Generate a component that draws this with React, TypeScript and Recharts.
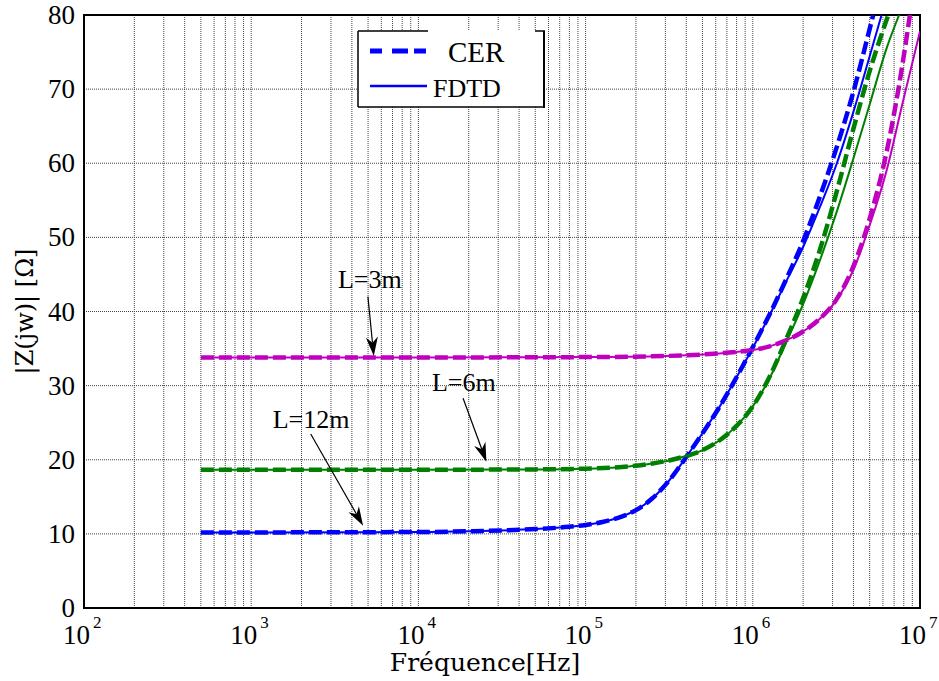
import React from "react";
import {
  LineChart,
  Line,
  XAxis,
  YAxis,
  CartesianGrid,
  ReferenceLine,
  ReferenceDot,
  ReferenceArea,
  Label,
} from "recharts";

// ---------- data ----------
const xTicks = [
  100, 200, 300, 400, 500, 600, 700, 800, 900,
  1000, 2000, 3000, 4000, 5000, 6000, 7000, 8000, 9000,
  1e4, 2e4, 3e4, 4e4, 5e4, 6e4, 7e4, 8e4, 9e4,
  1e5, 2e5, 3e5, 4e5, 5e5, 6e5, 7e5, 8e5, 9e5,
  1e6, 2e6, 3e6, 4e6, 5e6, 6e6, 7e6, 8e6, 9e6, 1e7,
];
const yTicks = [0, 10, 20, 30, 40, 50, 60, 70, 80];

// L=12m (blue)
const blueCER = [
  { f: 500, z: 10.2 }, { f: 1e3, z: 10.2 }, { f: 1e4, z: 10.25 }, { f: 2e4, z: 10.35 },
  { f: 5e4, z: 10.65 }, { f: 7.94e4, z: 10.95 }, { f: 1e5, z: 11.2 }, { f: 1.26e5, z: 11.6 },
  { f: 1.58e5, z: 12.2 }, { f: 2e5, z: 13.2 }, { f: 2.51e5, z: 14.8 }, { f: 3.16e5, z: 17.2 },
  { f: 3.98e5, z: 20.3 },
  { f: 5.01e5, z: 23.6 }, { f: 6.31e5, z: 27.1 }, { f: 7.94e5, z: 31.0 }, { f: 1e6, z: 35.2 },
  { f: 1.26e6, z: 39.6 }, { f: 1.58e6, z: 44.3 }, { f: 2e6, z: 49.5 }, { f: 2.51e6, z: 55.4 },
  { f: 3.16e6, z: 62.0 }, { f: 3.98e6, z: 69.5 }, { f: 5.01e6, z: 78.2 }, { f: 5.25e6, z: 80 },
];
const blueFDTD = [
  { f: 500, z: 10.2 }, { f: 1e3, z: 10.2 }, { f: 1e4, z: 10.25 }, { f: 2e4, z: 10.35 },
  { f: 5e4, z: 10.65 }, { f: 7.94e4, z: 10.95 }, { f: 1e5, z: 11.2 }, { f: 1.26e5, z: 11.6 },
  { f: 1.58e5, z: 12.2 }, { f: 2e5, z: 13.2 }, { f: 2.51e5, z: 14.8 }, { f: 3.16e5, z: 17.2 },
  { f: 3.98e5, z: 20.3 },
  { f: 5.01e5, z: 23.6 }, { f: 6.31e5, z: 27.1 }, { f: 7.94e5, z: 31.0 }, { f: 1e6, z: 35.1 },
  { f: 1.26e6, z: 39.5 }, { f: 1.58e6, z: 44.0 }, { f: 2e6, z: 48.7 }, { f: 2.51e6, z: 54.0 },
  { f: 3.16e6, z: 59.8 }, { f: 3.98e6, z: 66.8 }, { f: 5.01e6, z: 74.5 }, { f: 5.89e6, z: 80 },
];
// L=6m (green)
const greenCER = [
  { f: 500, z: 18.65 }, { f: 1e3, z: 18.65 }, { f: 1e4, z: 18.65 }, { f: 5e4, z: 18.7 },
  { f: 1e5, z: 18.8 }, { f: 1.58e5, z: 19.0 }, { f: 2e5, z: 19.2 }, { f: 2.51e5, z: 19.5 },
  { f: 3.16e5, z: 19.9 }, { f: 3.98e5, z: 20.5 }, { f: 5.01e5, z: 21.3 }, { f: 6.31e5, z: 22.6 },
  { f: 7.94e5, z: 24.5 }, { f: 1e6, z: 27.2 }, { f: 1.26e6, z: 31.2 }, { f: 1.58e6, z: 36.2 },
  { f: 2e6, z: 41.8 }, { f: 2.51e6, z: 48.2 }, { f: 3.16e6, z: 56.0 }, { f: 3.98e6, z: 64.5 },
  { f: 5.01e6, z: 72.5 }, { f: 6.46e6, z: 80 },
];
const greenFDTD = [
  { f: 500, z: 18.65 }, { f: 1e3, z: 18.65 }, { f: 1e4, z: 18.65 }, { f: 5e4, z: 18.7 },
  { f: 1e5, z: 18.8 }, { f: 1.58e5, z: 19.0 }, { f: 2e5, z: 19.2 }, { f: 2.51e5, z: 19.5 },
  { f: 3.16e5, z: 19.9 }, { f: 3.98e5, z: 20.5 }, { f: 5.01e5, z: 21.3 }, { f: 6.31e5, z: 22.6 },
  { f: 7.94e5, z: 24.5 }, { f: 1e6, z: 27.2 }, { f: 1.26e6, z: 31.0 }, { f: 1.58e6, z: 35.8 },
  { f: 2e6, z: 41.0 }, { f: 2.51e6, z: 46.8 }, { f: 3.16e6, z: 53.3 }, { f: 3.98e6, z: 60.5 },
  { f: 5.01e6, z: 68.0 }, { f: 6.31e6, z: 75.5 }, { f: 7.5e6, z: 80 },
];
// L=3m (magenta)
const magentaCER = [
  { f: 500, z: 33.8 }, { f: 1e3, z: 33.8 }, { f: 1e4, z: 33.8 }, { f: 1e5, z: 33.85 },
  { f: 3e5, z: 34.0 }, { f: 5e5, z: 34.2 }, { f: 6.31e5, z: 34.35 }, { f: 7.94e5, z: 34.55 },
  { f: 1e6, z: 34.8 }, { f: 1.26e6, z: 35.3 }, { f: 1.58e6, z: 36.1 }, { f: 2e6, z: 37.3 },
  { f: 2.51e6, z: 39.0 }, { f: 3.16e6, z: 41.6 }, { f: 3.98e6, z: 46.0 }, { f: 5.01e6, z: 52.6 },
  { f: 6.31e6, z: 61.5 }, { f: 7.94e6, z: 74.0 }, { f: 8.7e6, z: 80 },
];
const magentaFDTD = [
  { f: 500, z: 33.8 }, { f: 1e3, z: 33.8 }, { f: 1e4, z: 33.8 }, { f: 1e5, z: 33.85 },
  { f: 3e5, z: 34.0 }, { f: 5e5, z: 34.2 }, { f: 6.31e5, z: 34.35 }, { f: 7.94e5, z: 34.55 },
  { f: 1e6, z: 34.8 }, { f: 1.26e6, z: 35.3 }, { f: 1.58e6, z: 36.1 }, { f: 2e6, z: 37.3 },
  { f: 2.51e6, z: 39.0 }, { f: 3.16e6, z: 41.5 }, { f: 3.98e6, z: 45.5 }, { f: 5.01e6, z: 51.7 },
  { f: 6.31e6, z: 59.0 }, { f: 7.94e6, z: 68.5 }, { f: 1e7, z: 77.8 },
];

// annotations: text anchor and arrow (from -> to) in data coordinates
const annotations = [
  { text: "L=3m", tf: 5.12e3, tz: 44.25, f1: 4.99e3, z1: 42.0, f2: 5.41e3, z2: 34.0 },
  { text: "L=6m", tf: 1.87e4, tz: 30.35, f1: 1.85e4, z1: 28.3, f2: 2.55e4, z2: 19.74 },
  { text: "L=12m", tf: 2.28e3, tz: 25.4, f1: 2.27e3, z1: 23.47, f2: 4.67e3, z2: 11.1 },
];

const BLUE = "#0000ff";
const GREEN = "#008000";
const MAGENTA = "#bf00bf";
const SERIF = '"Liberation Serif", "Times New Roman", serif';
const SERIF2 = '"DejaVu Serif", "Liberation Serif", serif';

const XTick = (props: any) => {
  const { x, y, payload } = props;
  const lg = Math.log10(payload.value);
  const e = Math.round(lg);
  if (Math.abs(lg - e) > 1e-6) return <g />;
  return (
    <text x={x - 21} y={y + 36} fontFamily={SERIF} fontSize={27} fill="#000">
      <tspan>10</tspan>
      <tspan dx={3} dy={-16} fontSize={17}>{e}</tspan>
    </text>
  );
};

const YTick = (props: any) => {
  const { x, y, payload } = props;
  return (
    <text x={x} y={y + 9} textAnchor="end" fontFamily={SERIF} fontSize={27} fill="#000">
      {payload.value}
    </text>
  );
};

const Arrow = (props: any) => {
  const { x1, y1, x2, y2 } = props;
  if ([x1, y1, x2, y2].some((v) => v === undefined || isNaN(v))) return <g />;
  const dx = x2 - x1;
  const dy = y2 - y1;
  const len = Math.sqrt(dx * dx + dy * dy);
  const ux = dx / len;
  const uy = dy / len;
  const hl = 19;
  const hw = 6;
  const bx = x2 - ux * hl;
  const by = y2 - uy * hl;
  const mx = x2 - ux * (hl * 0.7);
  const my = y2 - uy * (hl * 0.7);
  const px = -uy;
  const py = ux;
  const pts = `${x2},${y2} ${bx + px * hw},${by + py * hw} ${mx},${my} ${bx - px * hw},${by - py * hw}`;
  return (
    <g>
      <line x1={x1} y1={y1} x2={mx} y2={my} stroke="#000" strokeWidth={1.2} />
      <polygon points={pts} fill="#000" />
    </g>
  );
};

const makeText = (t: string) => (props: any) => {
  const { cx, cy } = props;
  return (
    <text x={cx} y={cy + 8} textAnchor="middle" fontFamily={SERIF} fontSize={26} fill="#000">
      {t}
    </text>
  );
};

const XLabel = (props: any) => {
  const { viewBox } = props;
  const cx = viewBox.x + viewBox.width / 2 - 17;
  return (
    <text x={cx} y={viewBox.y + 63} textAnchor="middle" fontFamily={SERIF2} fontSize={25} fill="#000">
      Fréquence[Hz]
    </text>
  );
};

const YLabel = (props: any) => {
  const { viewBox } = props;
  const cy = viewBox.y + viewBox.height / 2;
  const cx = 33;
  return (
    <text
      x={cx}
      y={cy}
      textAnchor="middle"
      fontFamily={SERIF2}
      fontSize={24}
      fill="#000"
      transform={`rotate(-90 ${cx} ${cy})`}
    >
      |Z(jw)| [Ω]
    </text>
  );
};

const LegendBox = () => (
  <svg
    width={939}
    height={681}
    style={{ position: "absolute", left: 0, top: 0, pointerEvents: "none" }}
  >
    <rect x={358} y={31} width={186} height={76} fill="#fff" />
    <line x1={358} y1={31} x2={428} y2={31} stroke="#000" strokeWidth={1.5} />
    <line x1={535} y1={31} x2={545} y2={31} stroke="#000" strokeWidth={1.5} />
    <line x1={358} y1={31} x2={358} y2={107} stroke="#000" strokeWidth={1.5} />
    <line x1={358} y1={107} x2={545} y2={107} stroke="#000" strokeWidth={1.5} />
    <line x1={544} y1={31} x2={544} y2={108} stroke="#000" strokeWidth={2} />
    <line x1={370} y1={51} x2={427} y2={51} stroke={BLUE} strokeWidth={5} strokeDasharray="12 10 16 6 12" />
    <text x={448} y={62} fontFamily={SERIF} fontSize={29} fill="#000">CER</text>
    <line x1={370} y1={86} x2={427} y2={86} stroke={BLUE} strokeWidth={2.5} />
    <text x={433} y={97} fontFamily={SERIF} fontSize={26} fill="#000">FDTD</text>
  </svg>
);

export default function App() {
  const dashed = { strokeWidth: 4.5, strokeDasharray: "13 5" };
  return (
    <div style={{ position: "absolute", left: 0, top: 0, width: 939, height: 681, background: "#fff" }}>
      <LineChart width={939} height={681} margin={{ top: 15, right: 19, bottom: 0, left: 0 }}>
        <CartesianGrid stroke="#444" strokeDasharray="1 1" strokeWidth={1} />
        <XAxis
          type="number"
          dataKey="f"
          scale="log"
          domain={[100, 1e7]}
          ticks={xTicks}
          interval={0}
          allowDataOverflow
          height={73}
          tickSize={0}
          tickMargin={0}
          tickLine={false}
          axisLine={{ stroke: "#000", strokeWidth: 2 }}
          tick={<XTick />}
        >
          <Label content={<XLabel />} />
        </XAxis>
        <YAxis
          type="number"
          domain={[0, 80]}
          ticks={yTicks}
          interval={0}
          allowDataOverflow
          width={84}
          tickSize={0}
          tickMargin={9}
          tickLine={false}
          axisLine={{ stroke: "#000", strokeWidth: 2 }}
          tick={<YTick />}
        >
          <Label content={<YLabel />} />
        </YAxis>
        <ReferenceArea x1={100} x2={1e7} y1={0} y2={80} fill="none" stroke="#000" strokeWidth={2} />

        <Line data={blueCER} dataKey="z" type="monotone" stroke={BLUE} dot={false} isAnimationActive={false} {...dashed} />
        <Line data={greenCER} dataKey="z" type="monotone" stroke={GREEN} dot={false} isAnimationActive={false} {...dashed} />
        <Line data={magentaCER} dataKey="z" type="monotone" stroke={MAGENTA} dot={false} isAnimationActive={false} {...dashed} />
        <Line data={blueFDTD} dataKey="z" type="monotone" stroke={BLUE} strokeWidth={2} dot={false} isAnimationActive={false} />
        <Line data={greenFDTD} dataKey="z" type="monotone" stroke={GREEN} strokeWidth={2} dot={false} isAnimationActive={false} />
        <Line data={magentaFDTD} dataKey="z" type="monotone" stroke={MAGENTA} strokeWidth={2} dot={false} isAnimationActive={false} />

        {annotations.map((a) => (
          <ReferenceLine
            key={"l" + a.text}
            segment={[{ x: a.f1, y: a.z1 }, { x: a.f2, y: a.z2 }]}
            shape={(p: any) => <Arrow {...p} />}
          />
        ))}
        {annotations.map((a) => (
          <ReferenceDot key={"t" + a.text} x={a.tf} y={a.tz} r={1} shape={makeText(a.text)} />
        ))}
      </LineChart>
      <LegendBox />
    </div>
  );
}
